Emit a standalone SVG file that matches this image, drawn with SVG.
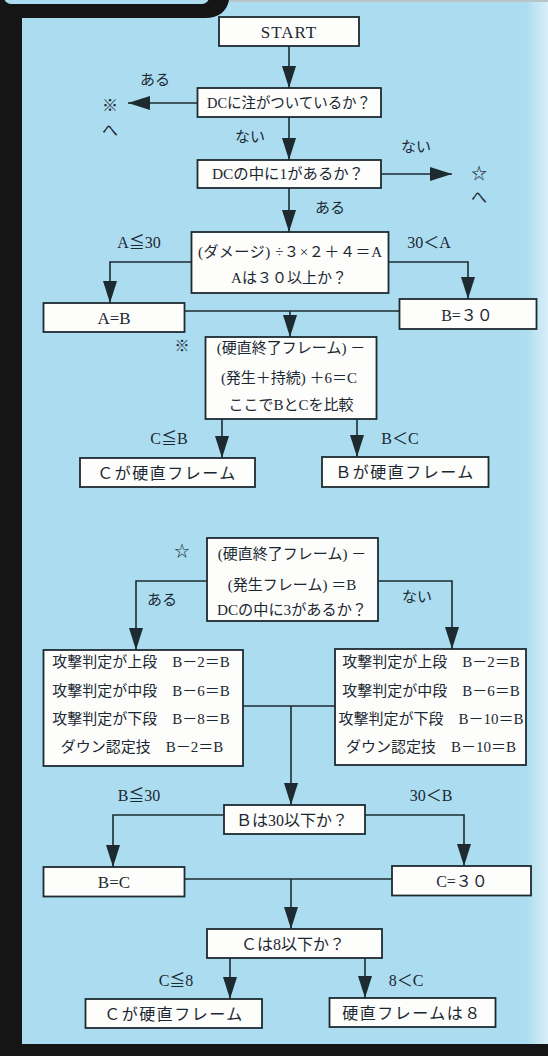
<svg xmlns="http://www.w3.org/2000/svg" width="548" height="1056" viewBox="0 0 548 1056">
<defs>
<style>
.box{fill:#fdfdfb;stroke:#1d2b30;stroke-width:1.8}
.ln{fill:none;stroke:#1d2b30;stroke-width:1.6}
.ar{marker-end:url(#ah)}
text{font-family:"Liberation Serif","Noto Sans CJK JP",serif;fill:#1b2832;text-anchor:middle;dominant-baseline:central;font-size:15px}
.big{font-size:16px}
.lat{font-size:17px}
.sp{letter-spacing:1.5px}
</style>
<marker id="ah" markerUnits="userSpaceOnUse" markerWidth="22" markerHeight="14" refX="22" refY="7" orient="auto">
<path d="M0,0 L22,7 L0,14 Z" fill="#1d2b30"/>
</marker>
<linearGradient id="edge" x1="0" y1="0" x2="1" y2="0">
<stop offset="0" stop-color="#ffffff" stop-opacity="0"/>
<stop offset="1" stop-color="#ffffff" stop-opacity="0.55"/>
</linearGradient>
</defs>
<g id="frame">
<rect x="0" y="0" width="548" height="1056" fill="#abdcef"/>
<rect x="525" y="0" width="23" height="1044" fill="url(#edge)"/>
<rect x="228" y="0" width="320" height="2" fill="#b9c4c8"/>
<path d="M0,0 H229 C227,11 219,18 205,18 H22 V1056 H0 Z" fill="#151515"/>
<rect x="4" y="-12" width="205" height="16" rx="7" fill="#abdcef"/>
<rect x="0" y="1044" width="548" height="12" fill="#151515"/>
</g>
<g id="connectors">
<path class="ln ar" d="M289,46 V88"/>
<path class="ln ar" d="M197,103 H128"/>
<path class="ln ar" d="M289,117 V160"/>
<path class="ln ar" d="M381,174 H452"/>
<path class="ln ar" d="M289,188 V232"/>
<path class="ln ar" d="M191,262 H110 V303"/>
<path class="ln ar" d="M389,262 H468 V299"/>
<path class="ln" d="M184,311 H400"/>
<path class="ln ar" d="M290,311 V337"/>
<path class="ln ar" d="M222,419 V458"/>
<path class="ln ar" d="M357,419 V457"/>
<path class="ln ar" d="M207,581 H136 V650"/>
<path class="ln ar" d="M378,581 H452 V649"/>
<path class="ln" d="M243,706 H335"/>
<path class="ln ar" d="M291,706 V805"/>
<path class="ln ar" d="M224,815 H113 V867"/>
<path class="ln ar" d="M365,815 H464 V866"/>
<path class="ln" d="M184,879 H392"/>
<path class="ln ar" d="M291,879 V929"/>
<path class="ln ar" d="M230,958 V999"/>
<path class="ln ar" d="M365,958 V998"/>
</g>
<g id="labels">
<text x="155" y="80">ある</text>
<text x="110" y="105" class="big">※</text>
<text x="110" y="130" class="big">へ</text>
<text x="250" y="137">ない</text>
<text x="416" y="147">ない</text>
<text x="479" y="173" class="big">☆</text>
<text x="479" y="197" class="big">へ</text>
<text x="330" y="208">ある</text>
<text x="139" y="242" class="big">A≦30</text>
<text x="429" y="242" class="big">30＜A</text>
<text x="182" y="346">※</text>
<text x="169" y="438" class="big">C≦B</text>
<text x="400" y="438" class="big">B＜C</text>
<text x="182" y="551">☆</text>
<text x="162" y="600">ある</text>
<text x="417" y="597">ない</text>
<text x="139" y="795" class="big">B≦30</text>
<text x="431" y="795" class="big">30＜B</text>
<text x="176" y="980" class="big">C≦8</text>
<text x="406" y="980" class="big">8＜C</text>
</g>
<g id="n-start">
<rect class="box" x="219" y="17" width="140" height="29"/>
<text x="289" y="32" class="lat" style="letter-spacing:1px">START</text>
</g>
<g id="n-q1">
<rect class="box" x="197.5" y="88" width="183.5" height="29"/>
<text x="289" y="103" textLength="164" lengthAdjust="spacingAndGlyphs">DCに注がついているか？</text>
</g>
<g id="n-q2">
<rect class="box" x="197.5" y="160" width="183.5" height="28"/>
<text x="288" y="174" textLength="152" lengthAdjust="spacingAndGlyphs">DCの中に1があるか？</text>
</g>
<g id="n-q3">
<rect class="box" x="191.5" y="232" width="197" height="61"/>
<text x="290" y="252" textLength="184" lengthAdjust="spacing">(ダメージ) ÷３×２＋４＝A</text>
<text x="289" y="278">Aは３０以上か？</text>
</g>
<g id="n-aeqb">
<rect class="box" x="43.5" y="303" width="141" height="29"/>
<text x="114" y="318" class="lat">A=B</text>
</g>
<g id="n-b30">
<rect class="box" x="399.5" y="299" width="137" height="30"/>
<text x="467" y="315" class="big">B=３０</text>
</g>
<g id="n-q4">
<rect class="box" x="205.5" y="337" width="171" height="82"/>
<text x="291" y="348">(硬直終了フレーム) －</text>
<text x="289" y="378">(発生＋持続) ＋6＝C</text>
<text x="291" y="405">ここでBとCを比較</text>
</g>
<g id="n-c1">
<rect class="box" x="80" y="458" width="175" height="29"/>
<text x="167" y="473" class="big sp">Ｃが硬直フレーム</text>
</g>
<g id="n-b1">
<rect class="box" x="322" y="457" width="166.5" height="30"/>
<text x="405" y="472" class="big sp">Ｂが硬直フレーム</text>
</g>
<g id="n-q5">
<rect class="box" x="207" y="538" width="171" height="83"/>
<text x="292" y="554">(硬直終了フレーム) －</text>
<text x="292" y="585">(発生フレーム) ＝B</text>
<text x="292" y="610" textLength="150" lengthAdjust="spacingAndGlyphs">DCの中に3があるか？</text>
</g>
<g id="n-left">
<rect class="box" x="43.5" y="650" width="199.5" height="116"/>
<text x="141" y="662">攻撃判定が上段　B－2＝B</text>
<text x="141" y="691">攻撃判定が中段　B－6＝B</text>
<text x="141" y="719">攻撃判定が下段　B－8＝B</text>
<text x="142" y="747">ダウン認定技　B－2＝B</text>
</g>
<g id="n-right">
<rect class="box" x="335" y="649" width="191" height="116"/>
<text x="431" y="662">攻撃判定が上段　B－2＝B</text>
<text x="431" y="691">攻撃判定が中段　B－6＝B</text>
<text x="431" y="719">攻撃判定が下段　B－10＝B</text>
<text x="431" y="747">ダウン認定技　B－10＝B</text>
</g>
<g id="n-q6">
<rect class="box" x="224" y="805" width="141" height="29"/>
<text x="292" y="820" class="big">Ｂは30以下か？</text>
</g>
<g id="n-beqc">
<rect class="box" x="43.5" y="867" width="141" height="29.5"/>
<text x="114" y="882" class="lat">B=C</text>
</g>
<g id="n-c30">
<rect class="box" x="392" y="866" width="139" height="29.5"/>
<text x="462" y="881" class="big">C=３０</text>
</g>
<g id="n-q7">
<rect class="box" x="207" y="929" width="175" height="29"/>
<text x="293" y="944" class="big">Ｃは8以下か？</text>
</g>
<g id="n-c2">
<rect class="box" x="85.5" y="999" width="176.5" height="29"/>
<text x="174" y="1014" class="big sp">Ｃが硬直フレーム</text>
</g>
<g id="n-8">
<rect class="box" x="329.5" y="998" width="166" height="29"/>
<text x="412" y="1013" class="big sp">硬直フレームは８</text>
</g>
</svg>
